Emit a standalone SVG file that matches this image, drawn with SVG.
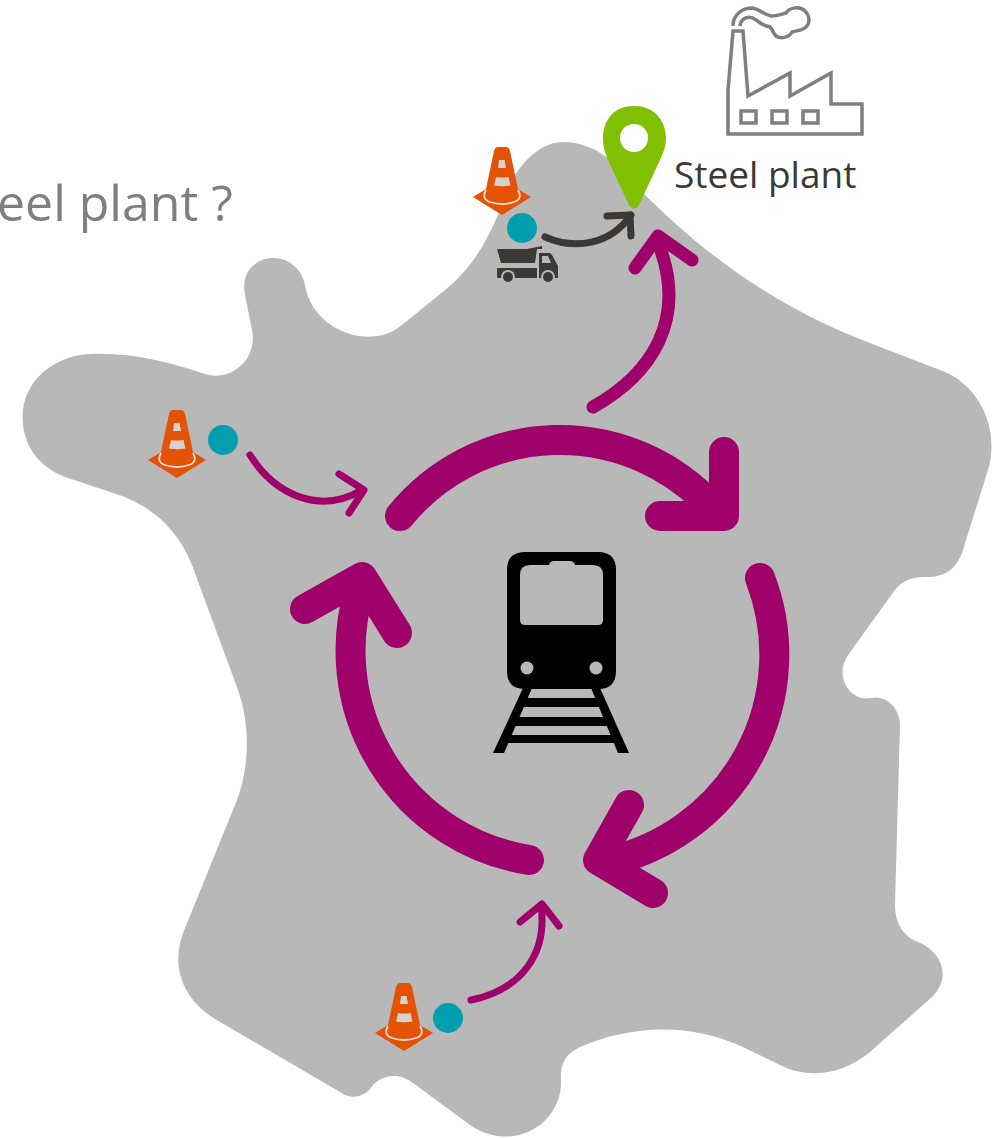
<svg xmlns="http://www.w3.org/2000/svg" xmlns:xlink="http://www.w3.org/1999/xlink" width="1008" height="1138" viewBox="0 0 1008 1138">
<style>
text{font-family:"Open Sans","Noto Sans","Liberation Sans",sans-serif}
.m{fill:none;stroke:#A0006A;stroke-linecap:round;stroke-linejoin:round}
.big{stroke-width:30}
.mid{stroke-width:13}
.thin{stroke-width:7}
.d{fill:none;stroke:#3C3836;stroke-width:7;stroke-linecap:round;stroke-linejoin:round}
.dot{fill:#009EAE}
.f{fill:none;stroke:#7F7F7F;stroke-width:3.500}
</style>
<defs>
<g id="cone">
<path d="M25,0 H33 Q36,0 37,4 L45,42 L58,50 L29,68 L0,50 L13,42 L21,4 Q22,0 25,0Z" fill="#E35205"/>
<path d="M26,13 H31.500 L33,21 H25Z M23,30 Q29,31 35.500,30 L37.500,38.500 Q29,40 21,38.500Z" fill="#D8D2CE"/>
<path d="M13,43 Q8,52 17,55 Q29,59 41,55 Q50,52 45,43" fill="none" stroke="#EFE0D8" stroke-width="1.800"/>
</g>
</defs>
<g id="france">
<path fill="#B8B8B8" d="M563,142 C595,142 620,165 640,190 C700,250 770,305 870,343 L945,372 C980,387 1000,430 988,470 L962,553 C955,572 940,578 925,577 C910,577 901,582 895,590 L848,655 C833,678 852,702 870,698 C888,694 900,710 900,725 L895,905 C895,925 905,937 918,942 C945,953 950,980 932,997 L870,1052 C840,1077 805,1078 780,1065 L745,1048 C690,1022 630,1025 578,1048 C565,1055 560,1065 561,1080 C563,1122 515,1155 470,1125 L413,1083 C395,1070 380,1078 373,1085 C365,1098 350,1100 340,1092 L215,1019 C185,1000 170,970 183,933 L237,800 C250,765 250,725 238,690 L192,565 C178,530 155,510 125,497 L65,477 C35,465 20,440 23,410 C27,375 60,355 90,354 C130,352 170,362 205,374 C230,382 258,360 252,330 L245,295 C240,270 258,258 273,258 C290,258 302,270 305,285 C312,330 370,352 402,325 L445,290 C470,270 485,245 498,215 C512,165 540,142 563,142Z"/>
</g>
<g id="connectors">
<path class="m big" d="M400,516 A206,206 0 0 1 712,507"/>
<path class="m big" d="M724,452 V516 H660"/>
<path class="m big" d="M760,578 A212,212 0 0 1 606,862"/>
<path class="m big" d="M629,805 L598,860 L653,893"/>
<path class="m big" d="M529,860 A212,212 0 0 1 360,588"/>
<path class="m big" d="M305,609 L362,577 L397,633"/>
<path class="m mid" d="M593,407 C650,375 690,320 657,240"/>
<path class="m mid" d="M635,268 L658,236 L692,260"/>
<path class="m thin" d="M250,455 C275,495 320,515 362,490"/>
<path class="m thin" d="M339,474 L364,490 L349,513"/>
<path class="m thin" d="M471,1000 C520,990 548,955 541,905"/>
<path class="m thin" d="M520,922 L542,904 L559,926"/>
<path class="d" d="M545,237 C575,250 610,245 631,215"/>
<path class="d" d="M607,216 L630,215 L631,236"/>
</g>
<g id="cone-north"><use xlink:href="#cone" href="#cone" x="473" y="147"/><circle class="dot" cx="522" cy="228" r="15"/></g>
<g id="cone-west"><use xlink:href="#cone" href="#cone" x="148" y="410"/><circle class="dot" cx="223" cy="440" r="15"/></g>
<g id="cone-south"><use xlink:href="#cone" href="#cone" x="375" y="983"/><circle class="dot" cx="448" cy="1018" r="15"/></g>
<g id="truck" fill="#3C3836">
<path d="M497,249 H527 L542,246 V249 H537 L535,263 H501Z"/>
<path d="M497,268 H537 V278 H497Z"/>
<path d="M539,253 H549 Q551,253 552,255 L558,266 V278 H539Z"/>
<path d="M542,256 H548 L551,263 H542Z" fill="#B8B8B8"/>
<circle cx="508" cy="277" r="7" fill="#B8B8B8"/><circle cx="548" cy="277" r="7" fill="#B8B8B8"/>
<circle cx="508" cy="277" r="5"/><circle cx="548" cy="277" r="5"/>
</g>
<g id="pin">
<path fill="#80C000" d="M634,106 C658,106 666,125 666,138 C666,148 662,155 660,160 L639,205 Q634,212 629,205 L608,160 C606,155 603,148 603,138 C603,125 610,106 634,106Z"/>
<circle cx="634" cy="138" r="14" fill="#fff"/>
</g>
<g id="factory">
<path class="f" d="M728,134 V90 L733,31 H743 L748,96 L790,73 V96 L831,73 V104 H862 V134Z"/>
<rect class="f" x="741" y="111" width="15" height="12"/>
<rect class="f" x="772" y="111" width="15" height="12"/>
<rect class="f" x="803" y="111" width="15" height="12"/>
<path class="f" d="M733,26 C733,14 743,8 752,8 C760,9 764,15 771,16 C777,16 782,14 786,13 C790,7 800,6 805,11 C811,17 810,26 803,29 C799,31 795,31 792,32 C789,38 780,39 776,36 C773,33 773,30 770,27 C764,26 760,23 756,20 C750,15 741,17 740,26"/>
</g>
<g id="train">
<path fill-rule="evenodd" d="M525,552 H598 Q616,552 616,570 V671 Q616,689 598,689 H525 Q507,689 507,671 V570 Q507,552 525,552Z M530,565 Q520,565 520,575 V620 Q520,625 525,625 H598 Q603,625 603,620 V575 Q603,565 593,565 H575 Q574,561 570,561 H554 Q550,561 549,565Z"/>
<circle cx="527" cy="668" r="6.500" fill="#B8B8B8"/><circle cx="596" cy="668" r="6.500" fill="#B8B8B8"/>
<path d="M523,688 H532 L504,753 H493Z M591,688 H600 L629,753 H618Z M520,698 H603 V707 H520Z M512,717 H611 V726 H512Z M503,735 H620 V743 H503Z"/>
</g>
<text id="title" x="-3" y="221" font-size="50" fill="#7F7F7F">eel plant ?</text>
<text id="label" x="674" y="188" font-size="37" fill="#3C3836">Steel plant</text>
</svg>
